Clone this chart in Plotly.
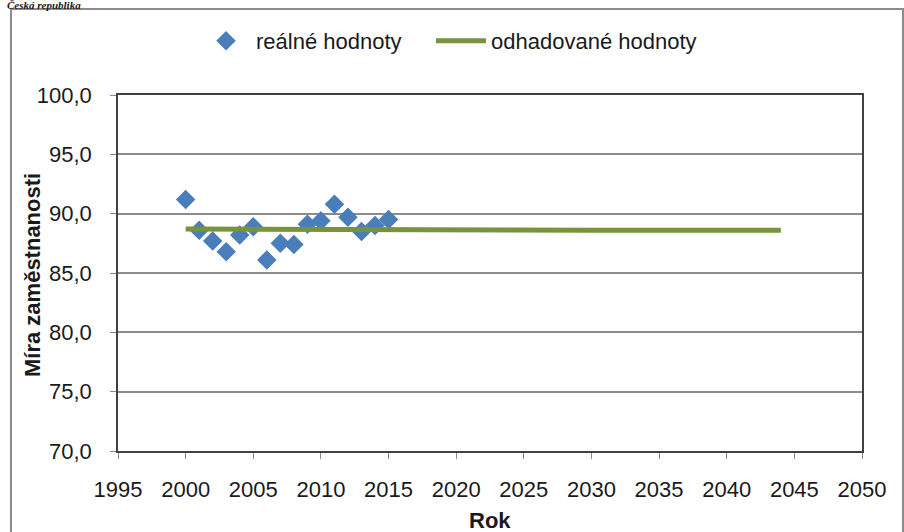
import plotly.graph_objects as go

# reálné hodnoty
roky = [2000, 2001, 2002, 2003, 2004, 2005, 2006, 2007, 2008, 2009, 2010, 2011, 2012, 2013, 2014, 2015]
realne = [91.2, 88.6, 87.7, 86.8, 88.2, 88.9, 86.1, 87.5, 87.4, 89.1, 89.4, 90.8, 89.7, 88.5, 89.0, 89.5]

# odhadované hodnoty
roky_odhad = [2000, 2010, 2020, 2030, 2044]
odhad = [88.7, 88.65, 88.62, 88.6, 88.6]

x_ticks = list(range(1995, 2051, 5))
y_ticks = [70, 75, 80, 85, 90, 95, 100]
y_labels = [("%.1f" % v).replace(".", ",") for v in y_ticks]

# plot area in pixels (for the frame / title placement)
L, R, T, B = 118, 862, 95, 451
W, H = R - L, B - T


def px_x(p):
    return (p - L) / W


def px_y(p):
    return (B - p) / H


fig = go.Figure()
# trailing nbsp widen the first legend entry (gap before the line symbol)
fig.add_trace(go.Scatter(x=roky, y=realne, mode="markers", name="reálné hodnoty\u00a0\u00a0\u00a0\u00a0",
                         marker=dict(symbol="diamond", size=15, color="#4A7EBB")))
fig.add_trace(go.Scatter(x=roky_odhad, y=odhad, mode="lines", name="odhadované hodnoty",
                         line=dict(color="#77933C", width=5)))

fig.update_layout(
    width=904, height=532,
    margin=dict(l=L, r=904 - R, t=T, b=532 - B, autoexpand=False),
    paper_bgcolor="white", plot_bgcolor="white",
    font=dict(family="Liberation Sans, Arial", size=22, color="#1a1a1a"),
    showlegend=True,
    legend=dict(orientation="h", x=px_x(196), xanchor="left",
                y=px_y(41), yanchor="middle",
                font=dict(size=22), itemwidth=50, bgcolor="rgba(0,0,0,0)"),
)
fig.update_xaxes(range=[1995, 2050], tickvals=x_ticks, showgrid=False,
                 showline=True, linecolor="#404040", linewidth=1.5, mirror=True,
                 ticks="outside", ticklen=6, tickcolor="#888888", ticklabelstandoff=12)
fig.update_yaxes(range=[70, 100], tickvals=y_ticks, ticktext=y_labels,
                 showgrid=True, gridcolor="#8c8c8c", gridwidth=1.5,
                 showline=True, linecolor="#404040", linewidth=1.5, mirror=True,
                 ticks="outside", ticklen=6, tickcolor="#888888", zeroline=False,
                 ticklabelstandoff=14)

# axis titles
fig.add_annotation(text="<b>Míra zaměstnanosti</b>", xref="paper", yref="paper",
                   x=px_x(32), xanchor="center", y=px_y(275), yanchor="middle",
                   textangle=-90, showarrow=False, font=dict(size=22))
fig.add_annotation(text="<b>Rok</b>", xref="paper", yref="paper",
                   x=px_x(490), y=px_y(535), yanchor="bottom", showarrow=False,
                   font=dict(size=22))

# outer frame of the chart
fig.add_shape(type="rect", xref="paper", yref="paper",
              x0=px_x(11), x1=px_x(903), y0=px_y(560), y1=px_y(9),
              line=dict(color="#8c8c8c", width=2), fillcolor="rgba(0,0,0,0)", layer="below")

fig.add_annotation(text="<b><i>Česká republika</i></b>", xref="paper", yref="paper",
                   x=px_x(6), xanchor="left", y=px_y(-2), yanchor="top",
                   showarrow=False, borderpad=0,
                   font=dict(family="Liberation Serif, Times New Roman", size=11, color="#1a1a1a"))

fig.write_html("out.html", config={"displayModeBar": False},
               post_script="document.body.style.margin='0';")
